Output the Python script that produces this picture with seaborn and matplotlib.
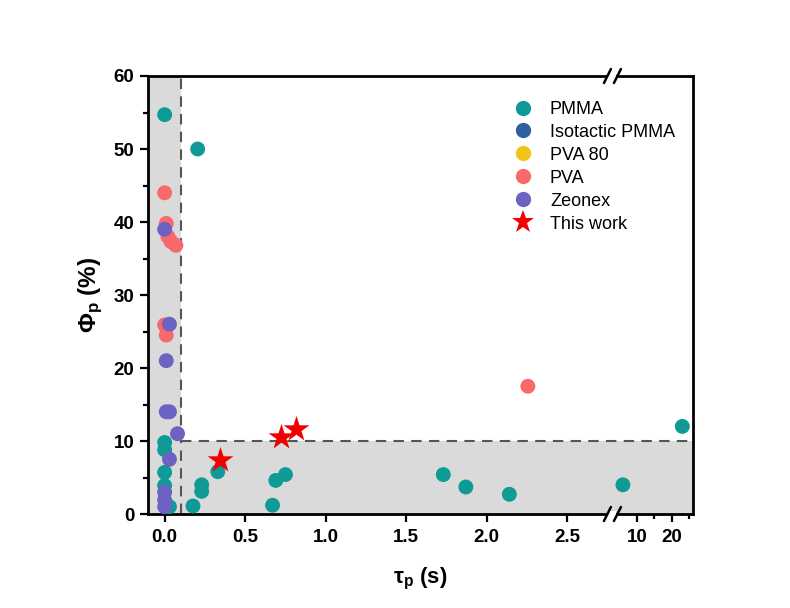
import numpy as np
import pandas as pd
import matplotlib
matplotlib.use("Agg")
import matplotlib.pyplot as plt
import seaborn as sns
from matplotlib.lines import Line2D
from matplotlib.patches import Rectangle

sns.set_style("white")
plt.rcParams['font.family'] = ['Liberation Sans', 'DejaVu Sans']
plt.rcParams['mathtext.fontset'] = 'custom'
plt.rcParams['mathtext.rm'] = 'Liberation Sans:bold'
plt.rcParams['mathtext.it'] = 'Liberation Sans:bold'
plt.rcParams['mathtext.bf'] = 'Liberation Sans:bold'
plt.rcParams['text.color'] = 'black'
plt.rcParams['axes.labelcolor'] = 'black'

# ---------------- data ----------------
pmma_x = [0.0, 0.205, 0.0, 0.0, 0.0, 0.0, 0.03, 0.176, 0.23, 0.23, 0.33, 0.67, 0.69, 0.75, 1.73, 1.87, 2.14, 6.0, 23.0]
pmma_y = [54.7, 50.0, 9.8, 8.8, 5.7, 3.9, 1.0, 1.1, 4.0, 3.1, 5.8, 1.2, 4.6, 5.4, 5.4, 3.7, 2.7, 4.0, 12.0]
pva_x = [0.0, 0.01, 0.02, 0.04, 0.07, 0.0, 0.01, 2.255]
pva_y = [44.0, 39.8, 38.0, 37.3, 36.8, 25.9, 24.5, 17.5]
zeonex_x = [0.0, 0.03, 0.01, 0.01, 0.03, 0.08, 0.03, 0.0, 0.0, 0.0]
zeonex_y = [39.0, 26.0, 21.0, 14.0, 14.0, 11.0, 7.5, 3.0, 1.9, 1.0]
iso_pmma_x, iso_pmma_y = [], []
pva80_x, pva80_y = [], []
work_x = [0.346, 0.725, 0.818]
work_y = [7.4, 10.5, 11.6]

series = ["PMMA", "Isotactic PMMA", "PVA 80", "PVA", "Zeonex"]
colors = {"PMMA": "#0f9b95", "Isotactic PMMA": "#2f5f9c", "PVA 80": "#f3c316",
          "PVA": "#f86a6a", "Zeonex": "#6c62c2"}
star_color = "#f00000"

xticks = [0.0, 0.5, 1.0, 1.5, 2.0, 2.5, 10, 20]
xticklabels = ["0.0", "0.5", "1.0", "1.5", "2.0", "2.5", "10", "20"]
yticks = [0, 10, 20, 30, 40, 50, 60]

# ---------------- broken x scale ----------------
BRK = 2.78      # end of first segment
SEG2 = 3.0      # start of second segment
K = 0.0217      # compression of second segment

def fwd(x):
    x = np.asarray(x, dtype=float)
    return np.where(x <= BRK, x, np.where(x < SEG2, BRK, BRK + (x - SEG2) * K))

def inv(y):
    y = np.asarray(y, dtype=float)
    return np.where(y <= BRK, y, SEG2 + (y - BRK) / K)

rows = []
for name, xs, ys in [("PMMA", pmma_x, pmma_y), ("Isotactic PMMA", iso_pmma_x, iso_pmma_y),
                     ("PVA 80", pva80_x, pva80_y), ("PVA", pva_x, pva_y),
                     ("Zeonex", zeonex_x, zeonex_y)]:
    for xv, yv in zip(xs, ys):
        rows.append({"tau": xv, "phi": yv, "material": name})
df = pd.DataFrame(rows)
dfw = pd.DataFrame({"tau": work_x, "phi": work_y})

fig = plt.figure(figsize=(7.9, 6.08), dpi=100)
ax = fig.add_axes([0.187, 0.1546, 0.69, 0.7204])
ax.set_xscale('function', functions=(fwd, inv))
XMIN, XMAX = -0.105, 26.0
ax.set_xlim(XMIN, XMAX)
ax.set_ylim(0, 60)

gray = "#dadada"
ax.fill_between([XMIN, 0.1], 0, 60, color=gray, lw=0, zorder=0)
ax.fill_between([0.1, XMAX], 0, 10, color=gray, lw=0, zorder=0)
ax.plot([0.1, 0.1], [0, 60], color="#555555", lw=1.5, ls=(0, (5, 3.5)), zorder=1)
ax.plot([0.1, XMAX], [10, 10], color="#555555", lw=1.5, ls=(0, (5, 3.5)), zorder=1)

sns.scatterplot(data=df, x="tau", y="phi", hue="material", hue_order=series,
                palette=colors, s=115, linewidth=0, alpha=1, ax=ax, legend=False, zorder=3)
sns.scatterplot(data=dfw, x="tau", y="phi", marker="*", color=star_color, s=380,
                linewidth=0, ax=ax, legend=False, zorder=4)

ax.set_xticks(xticks)
ax.set_xticklabels(xticklabels)
ax.set_xticks([15, 25], minor=True)
ax.set_yticks(yticks)
ax.set_yticks([5, 15, 25, 35, 45, 55], minor=True)
ax.tick_params(axis='both', which='major', direction='out', length=6, width=1.6,
               labelsize=13.5, bottom=True, left=True, top=False, right=False, colors='black')
ax.tick_params(axis='x', which='major', pad=5)
ax.tick_params(axis='both', which='minor', direction='out', length=3.5, width=1.6,
               bottom=True, left=True, top=False, right=False, colors='black')
for lab in ax.get_xticklabels() + ax.get_yticklabels():
    lab.set_fontweight('bold')
for sp in ax.spines.values():
    sp.set_linewidth(2)
    sp.set_color('black')
    sp.set_visible(True)

ax.set_xlabel("τ$_{\\rm p}$ (s)", fontsize=16, fontweight='bold', labelpad=14, color='black')
ax.set_ylabel("Φ$_{\\rm p}$ (%)", fontsize=17.5, fontweight='bold', labelpad=6, color='black')

# break marks on top and bottom spines
f0, f1 = float(fwd(XMIN)), float(fwd(XMAX))
bx = (BRK - f0) / (f1 - f0)
w_ax = 0.69 * 7.9 * 100
h_ax = 0.7204 * 6.08 * 100
for yb in (0.0, 1.0):
    ax.add_patch(Rectangle((bx - 4 / w_ax, yb - 3 / h_ax), 8 / w_ax, 6 / h_ax,
                           transform=ax.transAxes, color='white', clip_on=False, zorder=10, lw=0))
    for off in (-5, 5):
        cx = bx + off / w_ax
        ax.plot([cx - 3.5 / w_ax, cx + 3.5 / w_ax], [yb - 7 / h_ax, yb + 7 / h_ax],
                transform=ax.transAxes, color='black', lw=1.8, clip_on=False, zorder=11)

handles = [Line2D([], [], marker='o', ls='', color=colors[n], markersize=11, markeredgewidth=0)
           for n in series]
handles.append(Line2D([], [], marker='*', ls='', color=star_color, markersize=17, markeredgewidth=0))
labels = series + ["This work"]
fig.legend(handles, labels, loc='upper left', bbox_to_anchor=(0.639, 0.846), frameon=False,
           fontsize=13, handletextpad=0.9, labelspacing=0.33, borderaxespad=0,
           handlelength=1.2, labelcolor='black')

fig.savefig("out.png", dpi=100, facecolor='white')
